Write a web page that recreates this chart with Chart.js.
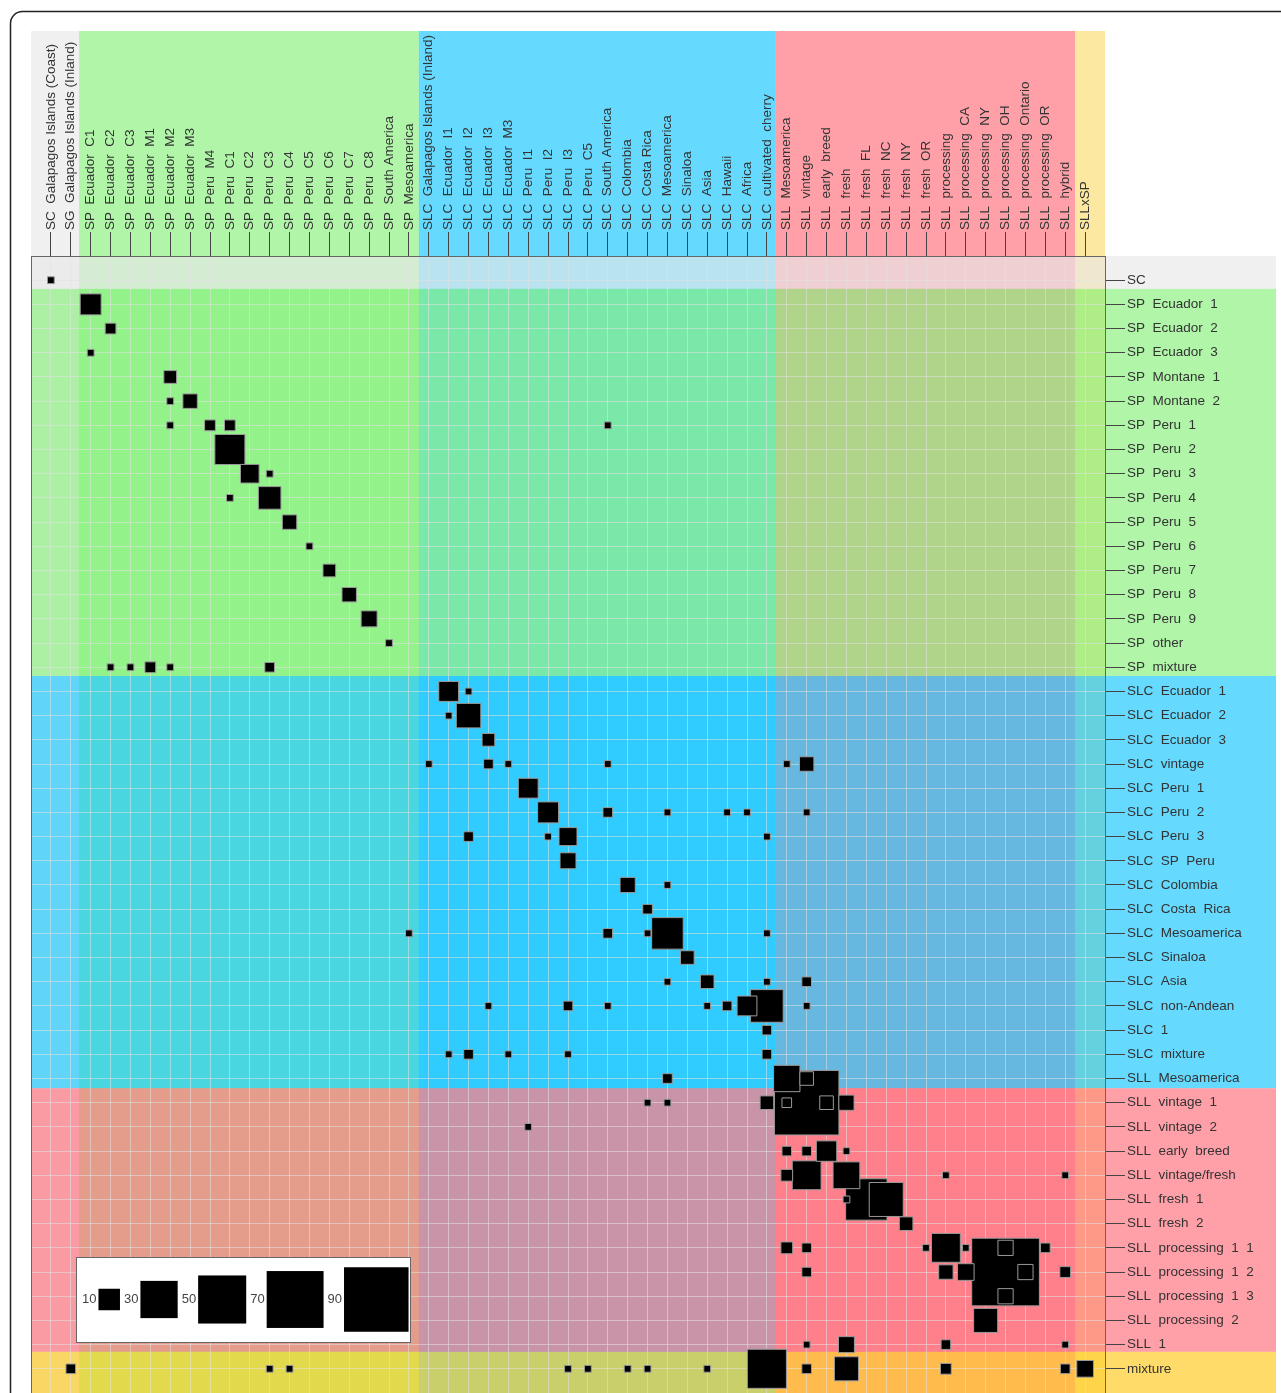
<!DOCTYPE html>
<html>
<head>
<meta charset="utf-8">
<script src="https://cdn.jsdelivr.net/npm/chart.js@4.4.1/dist/chart.umd.min.js"></script>
<style>
html,body{margin:0;padding:0;background:#fff;}
canvas{display:block;}
</style>
</head>
<body>
<canvas id="c" width="1281" height="1393"></canvas>
<script>
// ---------- DATA ----------
const colLabels = [
  'SC  Galapagos Islands (Coast)', 'SG  Galapagos Islands (Inland)',
  'SP  Ecuador  C1', 'SP  Ecuador  C2', 'SP  Ecuador  C3', 'SP  Ecuador  M1', 'SP  Ecuador  M2', 'SP  Ecuador  M3',
  'SP  Peru  M4', 'SP  Peru  C1', 'SP  Peru  C2', 'SP  Peru  C3', 'SP  Peru  C4', 'SP  Peru  C5', 'SP  Peru  C6',
  'SP  Peru  C7', 'SP  Peru  C8', 'SP  South America', 'SP  Mesoamerica',
  'SLC  Galapagos Islands (Inland)', 'SLC  Ecuador  I1', 'SLC  Ecuador  I2', 'SLC  Ecuador  I3', 'SLC  Ecuador  M3',
  'SLC  Peru  I1', 'SLC  Peru  I2', 'SLC  Peru  I3', 'SLC  Peru  C5', 'SLC  South America', 'SLC  Colombia',
  'SLC  Costa Rica', 'SLC  Mesoamerica', 'SLC  Sinaloa', 'SLC  Asia', 'SLC  Hawaii', 'SLC  Africa', 'SLC  cultivated  cherry',
  'SLL  Mesoamerica', 'SLL  vintage', 'SLL  early  breed', 'SLL  fresh', 'SLL  fresh  FL', 'SLL  fresh  NC',
  'SLL  fresh  NY', 'SLL  fresh  OR', 'SLL  processing', 'SLL  processing  CA', 'SLL  processing  NY',
  'SLL  processing  OH', 'SLL  processing  Ontario', 'SLL  processing  OR', 'SLL  hybrid', 'SLLxSP'
];

const rowLabels = [
  'SC',
  'SP  Ecuador  1', 'SP  Ecuador  2', 'SP  Ecuador  3', 'SP  Montane  1', 'SP  Montane  2',
  'SP  Peru  1', 'SP  Peru  2', 'SP  Peru  3', 'SP  Peru  4', 'SP  Peru  5', 'SP  Peru  6', 'SP  Peru  7',
  'SP  Peru  8', 'SP  Peru  9', 'SP  other', 'SP  mixture',
  'SLC  Ecuador  1', 'SLC  Ecuador  2', 'SLC  Ecuador  3', 'SLC  vintage', 'SLC  Peru  1', 'SLC  Peru  2',
  'SLC  Peru  3', 'SLC  SP  Peru', 'SLC  Colombia', 'SLC  Costa  Rica', 'SLC  Mesoamerica', 'SLC  Sinaloa',
  'SLC  Asia', 'SLC  non-Andean', 'SLC  1', 'SLC  mixture',
  'SLL  Mesoamerica', 'SLL  vintage  1', 'SLL  vintage  2', 'SLL  early  breed', 'SLL  vintage/fresh',
  'SLL  fresh  1', 'SLL  fresh  2', 'SLL  processing  1  1', 'SLL  processing  1  2', 'SLL  processing  1  3',
  'SLL  processing  2', 'SLL  1',
  'mixture'
];

// [column index, row index, value]
const cells = [
  [0,0,1],
  [2,1,9.5],
  [3,2,2.5],
  [2,3,1],
  [6,4,3.5],
  [6,5,1],[7,5,4.5],
  [6,6,1],[8,6,2.5],[9,6,2.5],[28,6,1],
  [9,7,19.5],
  [10,8,7.5],[11,8,1],
  [9,9,1],[11,9,11],
  [12,10,4.5],
  [13,11,1],
  [14,12,3.5],
  [15,13,4.5],
  [16,14,5.5],
  [17,15,1],
  [3,16,1],[4,16,1],[5,16,2.5],[6,16,1],[11,16,2],
  [20,17,8.5],[21,17,1],
  [20,18,1],[21,18,13],
  [22,19,3.5],
  [19,20,1],[22,20,2],[23,20,1],[28,20,1],[37,20,1],[38,20,4.5],
  [24,21,8.5],
  [25,22,9.5],[28,22,2],[31,22,1],[34,22,1],[35,22,1],[38,22,1],
  [21,23,2],[25,23,1],[26,23,7],[36,23,1],
  [26,24,5.5],
  [29,25,5],[31,25,1],
  [30,26,2],
  [18,27,1],[28,27,2],[30,27,1],[31,27,21.5],[36,27,1],
  [32,28,4],
  [31,29,1],[33,29,4],[36,29,1],[38,29,2],
  [22,30,1],[26,30,2],[28,30,1],[33,30,1],[34,30,2],[35,30,8.5],[36,30,23],[38,30,1],
  [36,31,2],
  [20,32,1],[21,32,2],[23,32,1],[26,32,1],[36,32,2],
  [31,33,2],[37,33,15],[38,33,4],
  [30,34,1],[31,34,1],[36,34,4],[37,34,2],[38,34,90],[39,34,4],[40,34,5],
  [24,35,1],
  [37,36,2],[38,36,2],[39,36,9],[40,36,1],
  [37,37,3],[38,37,18],[40,37,15.5],[45,37,1],[51,37,1],
  [40,38,1],[41,38,37],[42,38,25],
  [43,39,4],
  [37,40,3],[38,40,2],[44,40,1],[45,40,18],[46,40,1],[48,40,5],[50,40,2],
  [38,41,2],[45,41,4.5],[46,41,6],[48,41,99],[49,41,5],[51,41,2.5],
  [48,42,5],
  [47,43,12.5],
  [38,44,1],[40,44,5.5],[45,44,2],[51,44,1],
  [1,45,2],[11,45,1],[12,45,1],[26,45,1],[27,45,1],[29,45,1],[30,45,1],[33,45,1],
  [36,45,33],[38,45,2],[40,45,12.5],[45,45,2.5],[51,45,2],[52,45,6]
];

const legendValues = [10, 30, 50, 70, 90];

// group band boundaries (axis units)
const colBandEdges = [-1, 1.42, 18.5, 36.45, 51.5, 53];
const rowBandEdges = [-1, 0.36, 16.36, 33.4, 44.3, 46];

// ---------- STYLE ----------
const FONT = "'Liberation Sans', Arial, Helvetica, sans-serif";
const FONT_SIZE = 13.5;
const LINE_H = FONT_SIZE * 1.2;
const colBandColors = [
  'rgba(232,232,232,0.65)', 'rgba(134,240,121,0.65)', 'rgba(20,197,255,0.65)',
  'rgba(255,109,121,0.65)', 'rgba(250,220,109,0.65)'
];
const rowBandColors = [
  'rgba(232,232,232,0.65)', 'rgba(134,240,121,0.65)', 'rgba(20,197,255,0.65)',
  'rgba(255,109,121,0.65)', 'rgba(255,201,26,0.65)'
];
const SIDE_K = 6.8;               // square side = SIDE_K * sqrt(value)
const sideOf = v => SIDE_K * Math.sqrt(v);

function roundRectPath(ctx, x, y, w, h, r) {
  ctx.beginPath();
  ctx.moveTo(x + r, y);
  ctx.arcTo(x + w, y, x + w, y + h, r);
  ctx.arcTo(x + w, y + h, x, y + h, r);
  ctx.arcTo(x, y + h, x, y, r);
  ctx.arcTo(x, y, x + w, y, r);
  ctx.closePath();
}

const decoPlugin = {
  id: 'deco',
  beforeDraw(chart) {
    const {ctx, chartArea: ca} = chart;
    const xs = chart.scales.x, ys = chart.scales.y;
    ctx.save();
    ctx.fillStyle = '#fff';
    ctx.fillRect(0, 0, chart.width, chart.height);
    const bandTop = 31;
    for (let i = 0; i < colBandColors.length; i++) {
      const x0 = xs.getPixelForValue(colBandEdges[i]);
      const x1 = xs.getPixelForValue(colBandEdges[i + 1]);
      ctx.fillStyle = colBandColors[i];
      ctx.fillRect(x0, bandTop, x1 - x0, ca.bottom - bandTop);
    }
    const rightEdge = chart.width - 5;
    for (let i = 0; i < rowBandColors.length; i++) {
      const y0 = ys.getPixelForValue(rowBandEdges[i]);
      const y1 = ys.getPixelForValue(rowBandEdges[i + 1]);
      ctx.fillStyle = rowBandColors[i];
      ctx.fillRect(ca.left, y0, rightEdge - ca.left, y1 - y0);
    }
    ctx.restore();
  },
  afterDraw(chart) {
    const {ctx, chartArea: ca} = chart;
    ctx.save();
    // plot frame
    ctx.strokeStyle = '#666';
    ctx.lineWidth = 1;
    ctx.strokeRect(ca.left + 0.5, ca.top + 0.5, ca.right - ca.left, ca.bottom - ca.top + 5);
    // size legend
    const bx = ca.left + 45, by = ca.bottom - 136, bw = 334, bh = 85;
    ctx.fillStyle = '#fff';
    ctx.fillRect(bx, by, bw, bh);
    ctx.strokeStyle = '#666';
    ctx.strokeRect(bx + 0.5, by + 0.5, bw, bh);
    const cy = by + bh / 2;
    ctx.font = '13px ' + FONT;
    ctx.textBaseline = 'middle';
    ctx.textAlign = 'left';
    let cx = bx + 6;
    legendValues.forEach(v => {
      const t = String(v);
      ctx.fillStyle = '#444';
      ctx.fillText(t, cx, cy);
      cx += ctx.measureText(t).width + 2;
      const s = sideOf(v);
      ctx.fillStyle = '#000';
      ctx.fillRect(cx, cy - s / 2, s, s);
      cx += s + 4;
    });
    // outer rounded border
    ctx.strokeStyle = '#222';
    ctx.lineWidth = 1.5;
    roundRectPath(ctx, 10.5, 11.5, 1300, 1400, 12);
    ctx.stroke();
    ctx.restore();
  }
};

const points = cells
  .map(([c, r, v]) => ({x: c, y: r, v}))
  .sort((a, b) => b.v - a.v);

const gridColor = 'rgba(225,225,225,0.55)';
const zeroPad = s => { s.paddingLeft = 0; s.paddingRight = 0; s.paddingTop = 0; s.paddingBottom = 0; };

new Chart(document.getElementById('c'), {
  type: 'scatter',
  data: {
    datasets: [{
      data: points,
      pointStyle: 'rect',
      backgroundColor: '#000',
      borderColor: '#9a9a9a',
      borderWidth: 1,
      pointRadius: ctx => sideOf(ctx.raw.v) / Math.SQRT2,
      pointHoverRadius: ctx => sideOf(ctx.raw.v) / Math.SQRT2
    }]
  },
  options: {
    responsive: false,
    animation: false,
    devicePixelRatio: 1,
    events: [],
    layout: {autoPadding: false, padding: {left: 31, top: 31, right: 6, bottom: 0}},
    plugins: {legend: {display: false}, tooltip: {enabled: false}},
    scales: {
      x: {
        type: 'linear', position: 'top', min: -1, max: 53,
        afterBuildTicks: s => { s.ticks = colLabels.map((_, i) => ({value: i})); },
        afterFit: s => { s.height = 225; zeroPad(s); },
        ticks: {
          autoSkip: false, minRotation: 90, maxRotation: 90, padding: 2,
          labelOffset: LINE_H,
          color: '#333', font: {family: FONT, size: FONT_SIZE},
          callback: v => colLabels[v]
        },
        grid: {color: gridColor, lineWidth: 1, tickColor: '#444', tickLength: 24, tickWidth: 1},
        border: {display: false}
      },
      y: {
        type: 'linear', position: 'right', reverse: true, min: -1, max: 46,
        afterBuildTicks: s => { s.ticks = rowLabels.map((_, i) => ({value: i})); },
        afterFit: s => { s.width = 170; zeroPad(s); },
        ticks: {
          autoSkip: false, padding: 2,
          color: '#333', font: {family: FONT, size: FONT_SIZE},
          callback: v => rowLabels[v]
        },
        grid: {color: gridColor, lineWidth: 1, tickColor: '#444', tickLength: 20, tickWidth: 1},
        border: {display: false}
      }
    }
  },
  plugins: [decoPlugin]
});
</script>
</body>
</html>
